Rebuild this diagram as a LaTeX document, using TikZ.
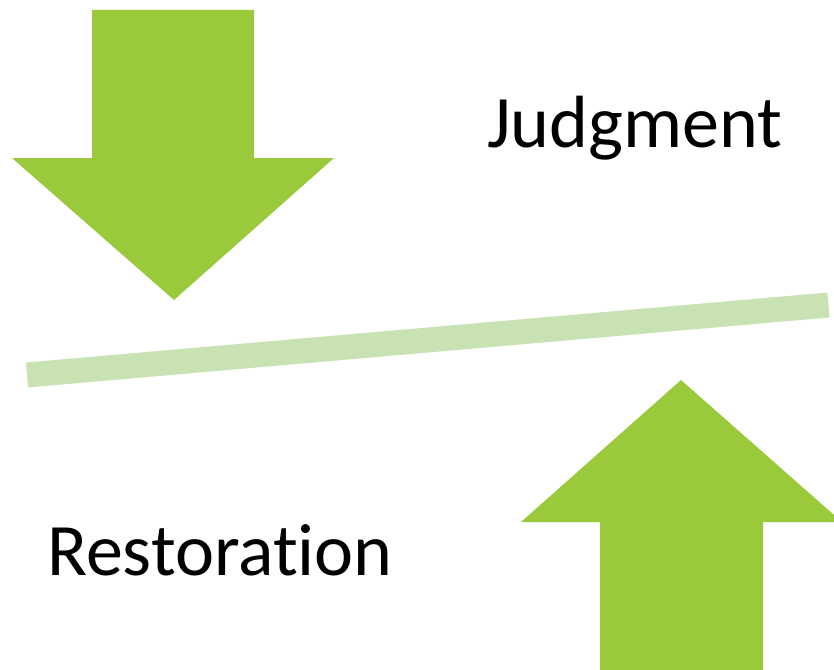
\documentclass[tikz,border=0pt]{standalone}
\usepackage{fontspec}
\setmainfont[Ligatures=NoCommon]{Carlito}
\definecolor{arrowgreen}{RGB}{154,202,60}
\definecolor{bargreen}{RGB}{201,226,179}
\tikzset{
  bigarrow/.style={fill=arrowgreen, draw=none},
  bar/.style={draw=bargreen, line width=25pt, line cap=butt},
  label/.style={inner sep=0pt, anchor=base west, font=\fontsize{74}{88}\selectfont}
}
\begin{document}
\begin{tikzpicture}[x=1pt,y=-1pt]
\useasboundingbox (0,0) rectangle (834,669);
\clip (0,0) rectangle (834,669);
% down arrow
\fill[bigarrow] (92,10) -- (254,10) -- (254,158) -- (334,158) -- (174,300) -- (12,158) -- (92,158) -- cycle;
% up arrow
\fill[bigarrow] (681,380) -- (842,522) -- (763,522) -- (763,680) -- (600,680) -- (600,522) -- (521,522) -- cycle;
% bar
\coordinate (barL) at (27,375);
\coordinate (barR) at (828.5,305);
\draw[bar] (barL) -- (barR);
% labels
\node[label] (judg) at (487,147) {Judgment};
\node[label] (rest) at (47,575) {Restoration};
\end{tikzpicture}
\end{document}
